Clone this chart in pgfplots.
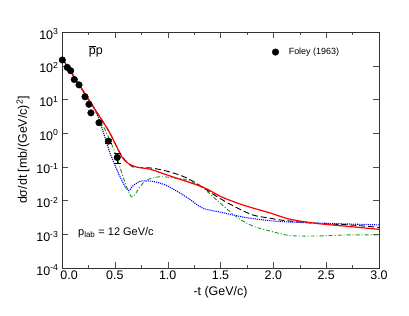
\documentclass[border=0pt]{standalone}
\usepackage{fontspec}
\setmainfont{Liberation Sans}
\usepackage{pgfplots}
\pgfplotsset{compat=1.18}
\definecolor{cgreen}{RGB}{20,150,20}
\begin{document}
\begin{tikzpicture}
\begin{axis}[
  scale only axis, width=317bp, height=236bp,
  xmin=0, xmax=3, ymode=log, log basis y=10, ymin=1e-4, ymax=1e3,
  xtick={0,0.5,1,1.5,2,2.5,3}, minor x tick num=1,
  ytick={1e-4,1e-3,1e-2,1e-1,1,10,100,1000},
  xticklabel={\pgfmathtruncatemacro\isz{abs(\tick)<0.01}\ifnum\isz=1 \makebox[0pt][l]{\hspace{-1.5bp}0.0}\else\pgfmathprintnumber[fixed,fixed zerofill,precision=1,assume math mode=true]{\tick}\fi},
  xticklabel style={yshift=1bp},
  yticklabel style={yshift=-2bp},
  log number format basis/.code 2 args={#1\textsuperscript{\pgfmathprintnumber[assume math mode=true]{#2}}},
  tick label style={font=\fontsize{12.5}{14}\selectfont},
  label style={font=\fontsize{12.5}{14}\selectfont},
  xlabel={-t (GeV/c)},
  ylabel={dσ/dt [mb/(GeV/c)\textsuperscript{2}]},
  major tick length=6bp, minor tick length=3bp,
  tick style={black!70},
  axis line style={black!80},
  legend style={at={(0.653,0.915)}, anchor=west, draw=none, fill=none, font=\fontsize{9}{10}\selectfont},
  legend cell align=left,
  clip=true,
]
% black dashed
\addplot[black, smooth, line width=0.9bp, dash pattern=on 6bp off 3bp, forget plot] coordinates {
(0,170) (0.1,55) (0.2,18) (0.3,5.8) (0.4,1.9) (0.454,1.0) (0.517,0.40) (0.565,0.21)
(0.624,0.13) (0.67,0.100) (0.76,0.095) (0.86,0.091) (1.02,0.071) (1.18,0.047) (1.33,0.025)
(1.49,0.0118) (1.66,0.0060) (1.81,0.0037) (1.97,0.0030) (2.09,0.0026) (2.41,0.0021)
(2.72,0.0019) (3.0,0.0016)};
% blue dotted
\addplot[blue, smooth, densely dotted, line width=1.1bp, forget plot] coordinates {
(0,165) (0.1,55) (0.2,17) (0.312,5.0) (0.376,1.5) (0.454,0.26) (0.549,0.051) (0.624,0.020)
(0.67,0.027) (0.738,0.037) (0.83,0.038) (0.93,0.033) (1.02,0.025) (1.18,0.0126) (1.33,0.0060)
(1.49,0.0046) (1.75,0.0031) (2.06,0.0024) (2.54,0.0021) (3.0,0.0019)};
% green dash-dot
\addplot[cgreen, smooth, dash pattern=on 4bp off 2bp on 1bp off 2bp, line width=0.9bp, forget plot] coordinates {
(0,168) (0.1,54) (0.2,17.5) (0.3,5.6) (0.423,1.0) (0.517,0.20) (0.577,0.051) (0.659,0.0129)
(0.738,0.0257) (0.801,0.041) (0.927,0.051) (1.05,0.047) (1.18,0.041) (1.334,0.0234)
(1.495,0.0085) (1.656,0.0032) (1.807,0.00175) (1.968,0.00125) (2.157,0.00092) (2.40,0.00089)
(2.72,0.00096) (3.0,0.00096)};
% red solid
\addplot[red, smooth, line width=1.2bp, forget plot] coordinates {
(0,170) (0.1,55) (0.2,18) (0.3,5.8) (0.4,1.9) (0.454,1.0) (0.517,0.40) (0.565,0.20)
(0.624,0.128) (0.707,0.098) (0.833,0.085) (1.02,0.054) (1.334,0.025) (1.495,0.0135)
(1.656,0.0085) (1.807,0.0060) (1.968,0.0043) (2.157,0.0028) (2.41,0.0021) (2.72,0.0017) (3.0,0.0014)};
% data
\addplot[only marks, mark=*, mark size=3.3bp, black,
  error bars/.cd, y dir=both, y explicit] coordinates {
(0.003,148) (0.05,89) (0.082,71) (0.116,39) (0.161,27) (0.218,12) (0.255,7.2)
(0.274,4.0) (0.35,2.04) (0.438,0.58) +- (0,0.08) (0.523,0.19) +- (0,0.06)};
\addlegendentry{\hspace{8bp}Foley (1963)}
\node[anchor=center, font=\fontsize{12.5}{14}\selectfont] at (axis cs:0.32,260) {$\overline{\mbox{p}}$p};
\node[anchor=west, font=\fontsize{11}{13}\selectfont] at (axis cs:0.12,1.1e-3) {p$_{\mbox{\fontsize{8}{9}\selectfont lab}}$ = 12 GeV/c};
\end{axis}
\path[use as bounding box] (-62bp,-48bp) rectangle (347bp,268bp);
\end{tikzpicture}
\end{document}
